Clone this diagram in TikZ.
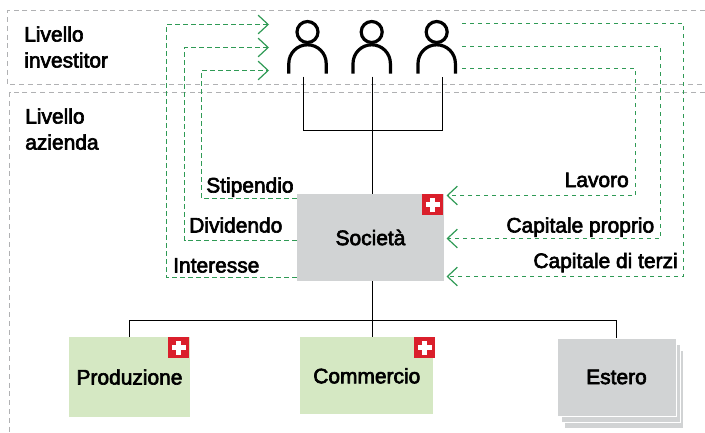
\documentclass[tikz,border=0pt]{standalone}
\usepackage{fontspec}
\setmainfont{Liberation Sans}[FakeBold=3]
\usetikzlibrary{arrows.meta}

\definecolor{grigio}{HTML}{D1D3D4}
\definecolor{verdino}{HTML}{D5E8C3}
\definecolor{rosso}{HTML}{DA1F2B}
\definecolor{flussoverde}{HTML}{2F9A55}
\definecolor{cornicegrigia}{HTML}{B0B1B3}

\begin{document}
\begin{tikzpicture}[x=0.75pt, y=-0.75pt,
    testo/.style={font=\fontsize{15.7}{19.5}\selectfont, inner sep=0pt},
    livello/.style={testo, anchor=base west, align=left},
    sinistra/.style={testo, anchor=base west},
    destra/.style={testo, anchor=base east},
    scatola/.style={testo, inner sep=0pt, text centered},
    societa/.style={scatola, fill=grigio, minimum width=147*0.75pt, minimum height=87*0.75pt},
    filiale/.style={scatola, fill=verdino},
    foglio/.style={fill=grigio, draw=white, line width=0.75pt, minimum width=119*0.75pt, minimum height=78*0.75pt, inner sep=0pt},
    bandiera/.style={fill=rosso, minimum size=21*0.75pt, inner sep=0pt},
    cornice/.style={draw=cornicegrigia, line width=0.85pt, dash pattern=on 3.8pt off 2.8pt},
    flusso/.style={draw=flussoverde, line width=0.85pt, dash pattern=on 3.2pt off 2.8pt, -{Straight Barb[length=7.5pt, width=14pt, line width=0.9pt]}},
    linea/.style={draw=black, line width=0.85pt},
    persona/.style={draw=black, line width=2.4pt}]
    \useasboundingbox (0,0) rectangle (705,432);

    % livelli
    \draw[cornice] (705,10.5) -| (7.5,84.5) -- (705,84.5);
    \draw[cornice] (705,92.5) -| (9.5,432);
    \node[livello] (investitor) at (24,67.5) {Livello\\investitor};
    \node[livello] (azienda) at (25,149.5) {Livello\\azienda};

    % investitori
    \foreach \n/\x in {1/307.5, 2/371.7, 3/436.7} {
      \draw[persona] (\x,32) circle (10.5);
      \draw[persona] (\x-18.7,73.5) -- (\x-18.7,63.5) arc[start angle=180, end angle=360, radius=18.7] -- (\x+18.7,73.5);
    }
    \coordinate (piede1) at (303.5,76.5);
    \coordinate (piede2) at (372.5,76.5);
    \coordinate (piede3) at (442.5,76.5);
    \coordinate (snodo) at (372.5,130.5);
    \coordinate (bus) at (372.5,320.5);

    % scatole
    \foreach \n/\dx/\dy in {3/7/12, 2/4/6} {
      \node[foglio, anchor=north west] (estero\n) at (557+\dx,338+\dy) {};
    }
    \node[societa] (soc) at (370.5,237.5) {Società};
    \node[filiale, minimum width=121*0.75pt, minimum height=79.5*0.75pt] (produzione) at (129.5,377) {Produzione};
    \node[filiale, minimum width=133*0.75pt, minimum height=77*0.75pt] (commercio) at (366.8,375.8) {Commercio};
    \node[foglio, font=\fontsize{15.7}{19.5}\selectfont, anchor=north west] (estero) at (556.5,337.5) {Estero};

    \foreach \n/\x/\y in {a/432.5/204.5, b/178.5/347.5, c/424.5/347.5} {
      \node[bandiera] (flag\n) at (\x,\y) {};
      \fill[white] ([shift={(-7,-2.4)}]flag\n.center) rectangle ([shift={(7,2.4)}]flag\n.center);
      \fill[white] ([shift={(-2.4,-7)}]flag\n.center) rectangle ([shift={(2.4,7)}]flag\n.center);
    }

    % struttura
    \draw[linea] (piede1) |- (snodo) -| (piede3);
    \draw[linea] (piede2) -- (piede2 |- soc.north);
    \draw[linea] (piede2 |- soc.south) -- (piede2 |- commercio.north);
    \draw[linea] (produzione.north) |- (bus) -| (estero.north);

    % flussi
    \coordinate (inA) at (269,24.5);
    \coordinate (inB) at (269,47.5);
    \coordinate (inC) at (269,70.5);
    \coordinate (outA) at (462,68.5);
    \coordinate (outB) at (462,46.5);
    \coordinate (outC) at (462,23.5);
    \draw[flusso] (soc.west |- 0,277.5) -| (166.5,24.5) -- (inA);
    \draw[flusso] (soc.west |- 0,240.5) -| (184.5,47.5) -- (inB);
    \draw[flusso] (soc.west |- 0,198.5) -| (201.5,70.5) -- (inC);
    \coordinate (lavoroE) at (446.5,195.5);
    \coordinate (proprioE) at (446.5,238.5);
    \coordinate (terziE) at (446.5,276.5);
    \draw[flusso] (outA) -| (635.5,195.5) -- (lavoroE);
    \draw[flusso] (outB) -| (660.5,238.5) -- (proprioE);
    \draw[flusso] (outC) -| (683.5,276.5) -- (terziE);

    % etichette
    \node[sinistra] (stipendio) at (206,192.5) {Stipendio};
    \node[sinistra] (dividendo) at (189,232.5) {Dividendo};
    \node[sinistra] (interesse) at (173,272.5) {Interesse};
    \node[destra] (lavoro) at (629,187) {Lavoro};
    \node[destra] (proprio) at (654.5,232.5) {Capitale proprio};
    \node[destra] (terzi) at (678,268) {Capitale di terzi};
\end{tikzpicture}
\end{document}
